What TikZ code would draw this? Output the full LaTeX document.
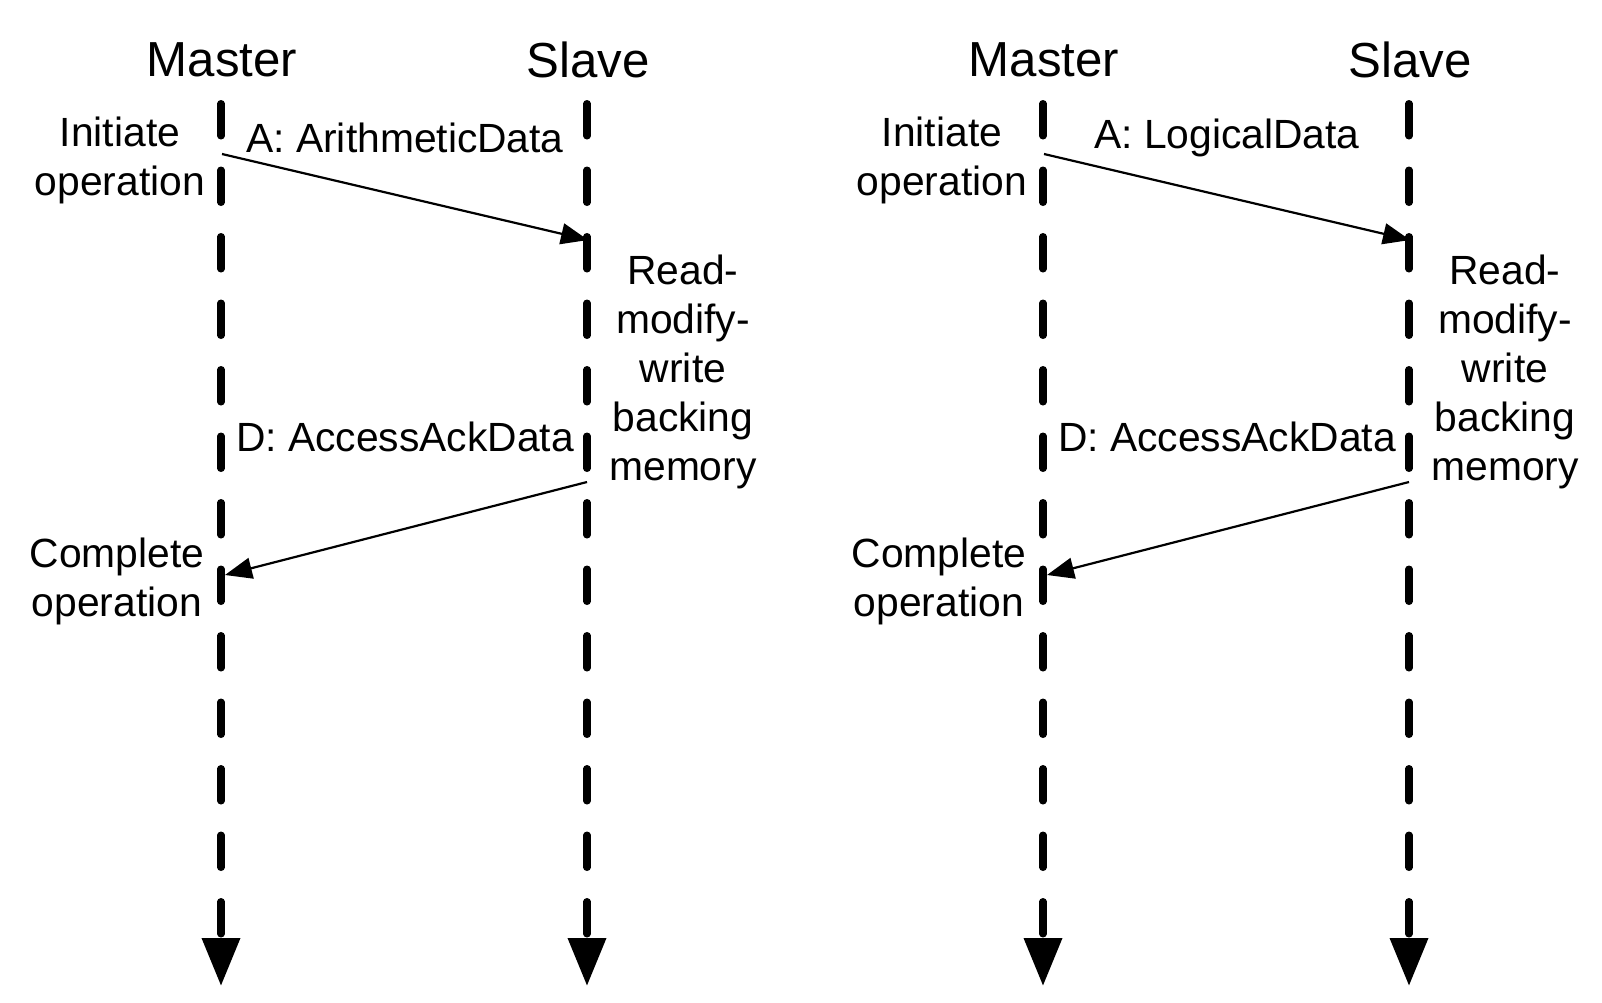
\documentclass[tikz,border=0pt]{standalone}
\usepackage{fontspec}
\setmainfont{Liberation Sans}
\usetikzlibrary{arrows.meta}

\tikzset{
	title/.style={font=\fontsize{24.6}{29}\selectfont, inner sep=0pt},
	lbl/.style={font=\fontsize{20.4}{24.5}\selectfont, inner sep=0pt, align=center},
	lifeline/.style={line width=3.75pt, line cap=round, dash pattern=on 16pt off 17.25pt, -{Triangle[length=24pt,width=18.4pt]}},
	msg/.style={line width=1.1pt, -{Triangle[length=13.5pt,width=10.5pt]}}
}

\begin{document}
\begin{tikzpicture}[x=0.5pt,y=-0.5pt]
				\useasboundingbox (0,0) rectangle (1602,1002);
				
				% left: arithmetic
				\node(m1) at (222,60)[title]{Master};
				\node(s1) at (588,60)[title]{Slave};
				\coordinate(m1top) at (221,103.75);
				\coordinate(m1bot) at (221,986);
				\coordinate(s1top) at (587,103.75);
				\coordinate(s1bot) at (587,986);
				\draw[lifeline] (m1top) to (m1bot);
				\draw[lifeline] (s1top) to (s1bot);
				
				\node(init1) at (120,160)[lbl]{Initiate\\operation};
				\node(a1) at (405,138)[lbl]{A: ArithmeticData};
				\node(rmw1) at (683,372)[lbl]{Read-\\modify-\\write\\backing\\memory};
				\node(d1) at (405,437)[lbl]{D: AccessAckData};
				\node(done1) at (117,581)[lbl]{Complete\\operation};
				
				\coordinate(m1a) at (222,154);
				\coordinate(s1a) at (588,240);
				\coordinate(s1d) at (587,482);
				\coordinate(m1d) at (225,575);
				\draw[msg] (m1a) to (s1a);
				\draw[msg] (s1d) to (m1d);
				
				% right: logical
				\node(m2) at (1044,60)[title]{Master};
				\node(s2) at (1410,60)[title]{Slave};
				\coordinate(m2top) at (1043,103.75);
				\coordinate(m2bot) at (1043,986);
				\coordinate(s2top) at (1409,103.75);
				\coordinate(s2bot) at (1409,986);
				\draw[lifeline] (m2top) to (m2bot);
				\draw[lifeline] (s2top) to (s2bot);
				
				\node(init2) at (942,160)[lbl]{Initiate\\operation};
				\node(a2) at (1227,138)[lbl]{A: LogicalData};
				\node(rmw2) at (1505,372)[lbl]{Read-\\modify-\\write\\backing\\memory};
				\node(d2) at (1227,437)[lbl]{D: AccessAckData};
				\node(done2) at (939,581)[lbl]{Complete\\operation};
				
				\coordinate(m2a) at (1044,154);
				\coordinate(s2a) at (1410,240);
				\coordinate(s2d) at (1409,482);
				\coordinate(m2d) at (1047,575);
				\draw[msg] (m2a) to (s2a);
				\draw[msg] (s2d) to (m2d);
				
			\end{tikzpicture}
\end{document}
